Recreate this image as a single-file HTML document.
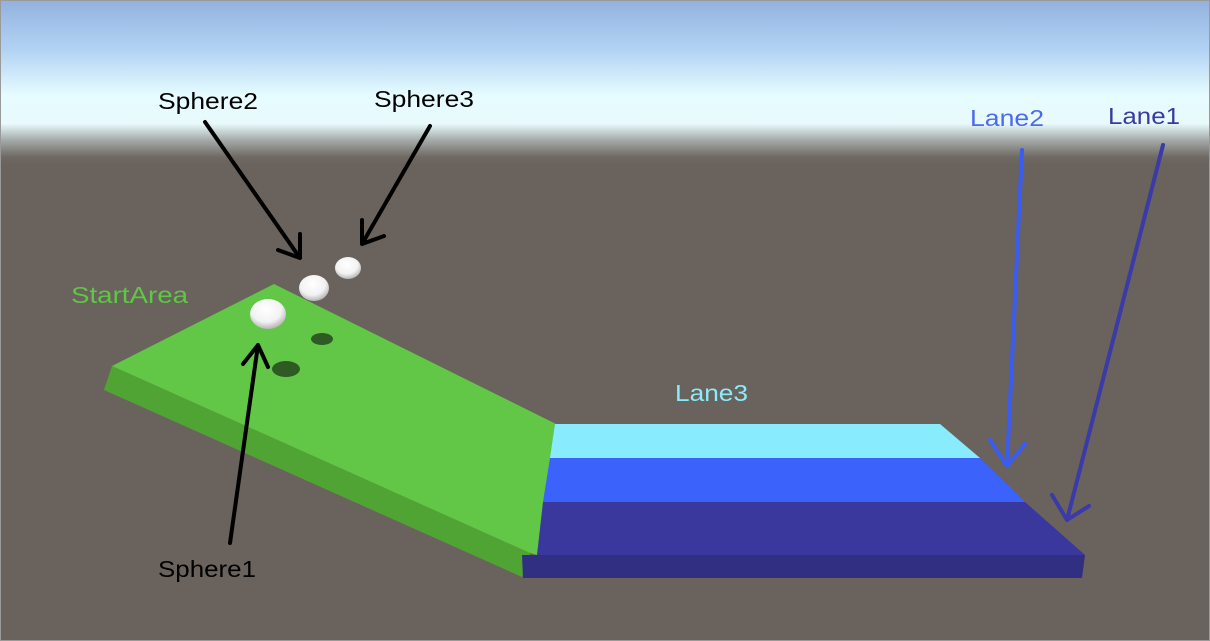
<!DOCTYPE html>
<html><head><style>html,body{margin:0;padding:0;background:#6a625c}svg{display:block}</style></head>
<body>
<svg width="1210" height="641" viewBox="0 0 1210 641" xmlns="http://www.w3.org/2000/svg">
<defs>
<linearGradient id="sky" x1="0" y1="0" x2="0" y2="1">
<stop offset="0" stop-color="#92b2de"/>
<stop offset="0.3" stop-color="#b2d2f4"/>
<stop offset="0.58" stop-color="#e6fcff"/>
<stop offset="0.75" stop-color="#e8fafc"/>
<stop offset="0.85" stop-color="#a4aaa8"/>
<stop offset="0.95" stop-color="#706a64"/>
<stop offset="1" stop-color="#6a625c"/>
</linearGradient>
<radialGradient id="sph" cx="0.45" cy="0.35" r="0.7">
<stop offset="0" stop-color="#ffffff"/><stop offset="0.6" stop-color="#f2f2f2"/><stop offset="1" stop-color="#a8a8a8"/>
</radialGradient>
</defs>
<rect width="1210" height="641" fill="#6a625c"/>
<rect width="1210" height="165" fill="url(#sky)"/>
<!-- green slab -->
<polygon points="112,366 104,390 522,577 530,553" fill="#50a434"/>
<polygon points="274,284 556,424 537,555 530,553 112,366" fill="#62c646"/>
<!-- lanes -->
<polygon points="555,424 940,424 980,458 550,458" fill="#88ecfc"/>
<polygon points="550,458 980,458 1025,502 543,502" fill="#3c62fc"/>
<polygon points="543,502 1025,502 1085,555 537,555" fill="#3a389c"/>
<polygon points="522,555 1085,555 1082,578 523,578" fill="#312f82"/>
<!-- shadows -->
<ellipse cx="286" cy="369" rx="14" ry="8" fill="#2e5a24"/>
<ellipse cx="322" cy="339" rx="11" ry="6" fill="#2e5a24"/>
<!-- spheres -->
<ellipse cx="268" cy="314" rx="18" ry="15" fill="url(#sph)"/>
<ellipse cx="314" cy="288" rx="15" ry="13" fill="url(#sph)"/>
<ellipse cx="348" cy="268" rx="13" ry="11" fill="url(#sph)"/>
<!-- arrows -->
<g fill="none" stroke-width="4" stroke-linecap="round" stroke-linejoin="round">
<g stroke="#000">
<path d="M205,122 L300,258 M278,250 L300,258 L300,234"/>
<path d="M430,126 L362,244 M362,220 L362,244 L384,236"/>
<path d="M230,543 L258,345 M243,364 L258,345 L268,367"/>
</g>
<path stroke="#3a5cf0" d="M1022,150 L1007,466 M990,440 L1007,466 L1025,444"/>
<path stroke="#3a3aa8" d="M1163,145 L1067,520 M1052,495 L1067,520 L1089,506"/>
</g>
<!-- labels -->
<g font-family="'Liberation Sans', 'Noto Sans CJK JP', sans-serif" font-size="23" lengthAdjust="spacingAndGlyphs">
<text x="158" y="109" fill="#000" textLength="100" lengthAdjust="spacingAndGlyphs">Sphere2</text>
<text x="374" y="107" fill="#000" textLength="100" lengthAdjust="spacingAndGlyphs">Sphere3</text>
<text x="158" y="577" fill="#000" textLength="98" lengthAdjust="spacingAndGlyphs">Sphere1</text>
<text x="71" y="303" fill="#5fc646" textLength="117" lengthAdjust="spacingAndGlyphs">StartArea</text>
<text x="675" y="401" fill="#8aecfa" textLength="73" lengthAdjust="spacingAndGlyphs">Lane3</text>
<text x="970" y="126" fill="#4a6af0" textLength="74" lengthAdjust="spacingAndGlyphs">Lane2</text>
<text x="1108" y="124" fill="#3a3aa0" textLength="72" lengthAdjust="spacingAndGlyphs">Lane1</text>
</g>
<rect x="0.5" y="0.5" width="1209" height="640" fill="none" stroke="#9a9a9a"/>
</svg>
</body></html>
